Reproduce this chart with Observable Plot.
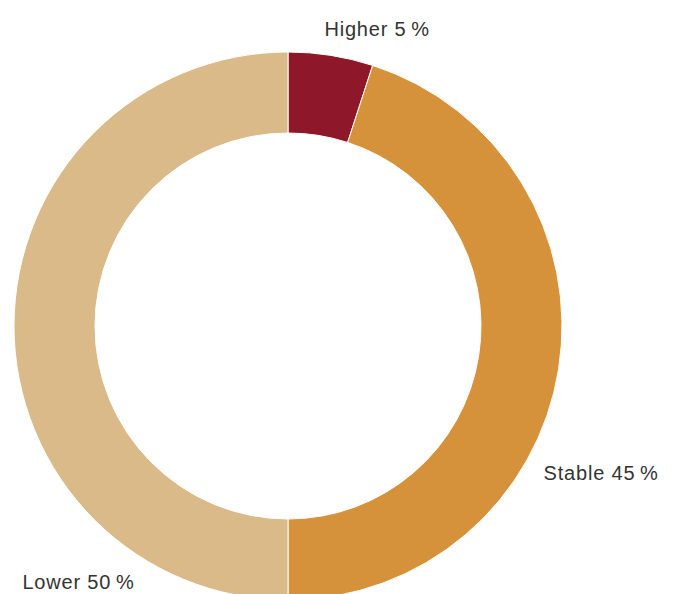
<!DOCTYPE html>
<html>
<head>
<meta charset="utf-8">
<script src="https://cdn.jsdelivr.net/npm/d3@7"></script>
<script src="https://cdn.jsdelivr.net/npm/@observablehq/plot@0.6"></script>
<style>
  html, body { margin: 0; padding: 0; background: #fff; }
</style>
</head>
<body>
<div id="chart"></div>
<script>
// ---- data ----
const categories = ["Higher", "Stable", "Lower"];
const values = [5, 45, 50];
const colors = ["#8E1829", "#D6923B", "#DBBA89"];

// ---- layout (label anchors in unit-circle coordinates) ----
const labelX = [0.131, 0.931, -0.971];
const labelY = [1.084, -0.536, -0.934];
const innerRatio = 193 / 274;

const data = categories.map((c, i) => ({category: c, value: values[i]}));
const labels = data.map((d, i) => ({
  x: labelX[i], y: labelY[i],
  text: `${d.category} ${d.value}\u2009%`
}));

const color = Plot.scale({color: {domain: categories, range: colors}});

function donut(index, scales) {
  const {x, y} = scales;
  const cx = x(0), cy = y(0);
  const R = x(1) - x(0);
  const arcs = d3.pie().value(d => d.value).sort(null)(data);
  const arc = d3.arc().innerRadius(R * innerRatio).outerRadius(R);
  const g = d3.create("svg:g").attr("transform", `translate(${cx},${cy})`);
  g.selectAll("path")
    .data(arcs)
    .join("path")
    .attr("d", arc)
    .attr("fill", d => color.apply(d.data.category))
    .attr("stroke", "#fff")
    .attr("stroke-width", 1);
  return g.node();
}

const chart = Plot.plot({
  width: 673,
  height: 594,
  x: {domain: [-1, 1], range: [14, 562], axis: null},
  y: {domain: [-1, 1], range: [600, 52], axis: null},
  style: {fontFamily: "'Liberation Sans', Arial, sans-serif", letterSpacing: "0.8px", background: "#fff"},
  marks: [
    donut,
    Plot.text(labels, {x: "x", y: "y", text: "text", textAnchor: "start", fontSize: 20, fill: "#333"})
  ]
});
document.getElementById("chart").appendChild(chart);
</script>
</body>
</html>
